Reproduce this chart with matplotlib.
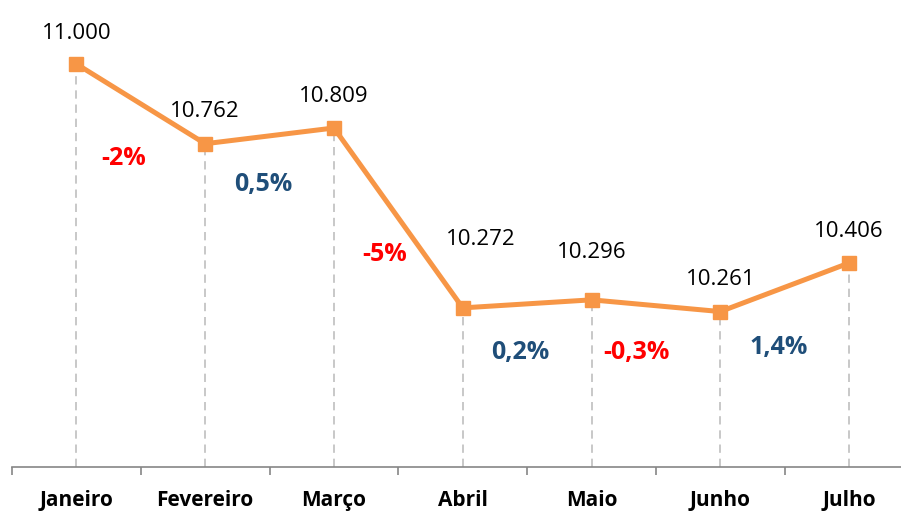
import matplotlib
matplotlib.use("Agg")
import matplotlib.pyplot as plt

months = ["Janeiro", "Fevereiro", "Março", "Abril", "Maio", "Junho", "Julho"]
values = [11000, 10762, 10809, 10272, 10296, 10261, 10406]
value_labels = ["11.000", "10.762", "10.809", "10.272", "10.296", "10.261", "10.406"]
changes = [-2, 0.5, -5, 0.2, -0.3, 1.4]
change_labels = ["-2%", "0,5%", "-5%", "0,2%", "-0,3%", "1,4%"]

# label placement (offsets in points for value labels, data coords for changes)
label_dx = [0, 0, 0, 13, 0, 0, 0]
label_dy = [22, 23, 23, 49, 34, 23, 23]
change_x = [0.364, 1.45, 2.395, 3.45, 4.35, 5.45]
change_y = [10719, 10639, 10430, 10140, 10140, 10155]

orange = "#F79646"
red = "#FF0000"
blue = "#1F4E79"

plt.rcParams['font.family'] = ['Open Sans', 'DejaVu Sans']

fig = plt.figure(figsize=(9.01, 5.13), dpi=100)
ax = fig.add_axes([12 / 901, 46 / 513, 901.5 / 901, 469 / 513])
ax.set_xlim(-0.5, 6.5)
ax.set_ylim(9797, 11197)

x = list(range(len(months)))
ax.vlines(x, 9797, values, colors="#BFBFBF", linestyles=(0, (5, 3.5)), linewidth=1.2, zorder=1)
ax.plot(x, values, color=orange, linewidth=3.6, marker="s", markersize=10,
        markerfacecolor=orange, markeredgecolor=orange, zorder=3)

for i, (v, lab) in enumerate(zip(values, value_labels)):
    ax.annotate(lab, (i, v), xytext=(label_dx[i], label_dy[i]), textcoords="offset points",
                ha="center", va="center", fontsize=16, color="black")

for cx, cy, c, lab in zip(change_x, change_y, changes, change_labels):
    ax.text(cx, cy, lab, ha="center", va="center", fontsize=18, fontweight="bold",
            color=red if c < 0 else blue)

for s in ["top", "right", "left"]:
    ax.spines[s].set_visible(False)
ax.spines["bottom"].set_color("#868686")
ax.spines["bottom"].set_linewidth(1.2)
ax.set_yticks([])

ax.set_xticks(x)
ax.set_xticklabels(months, fontsize=15, fontweight="bold")
ax.set_xticks([i - 0.5 for i in range(len(months) + 1)], minor=True)
ax.tick_params(axis="x", which="major", length=0, pad=16.5)
ax.tick_params(axis="x", which="minor", length=6, width=1.2, color="#868686", direction="out")

fig.savefig("out.png", dpi=100)
